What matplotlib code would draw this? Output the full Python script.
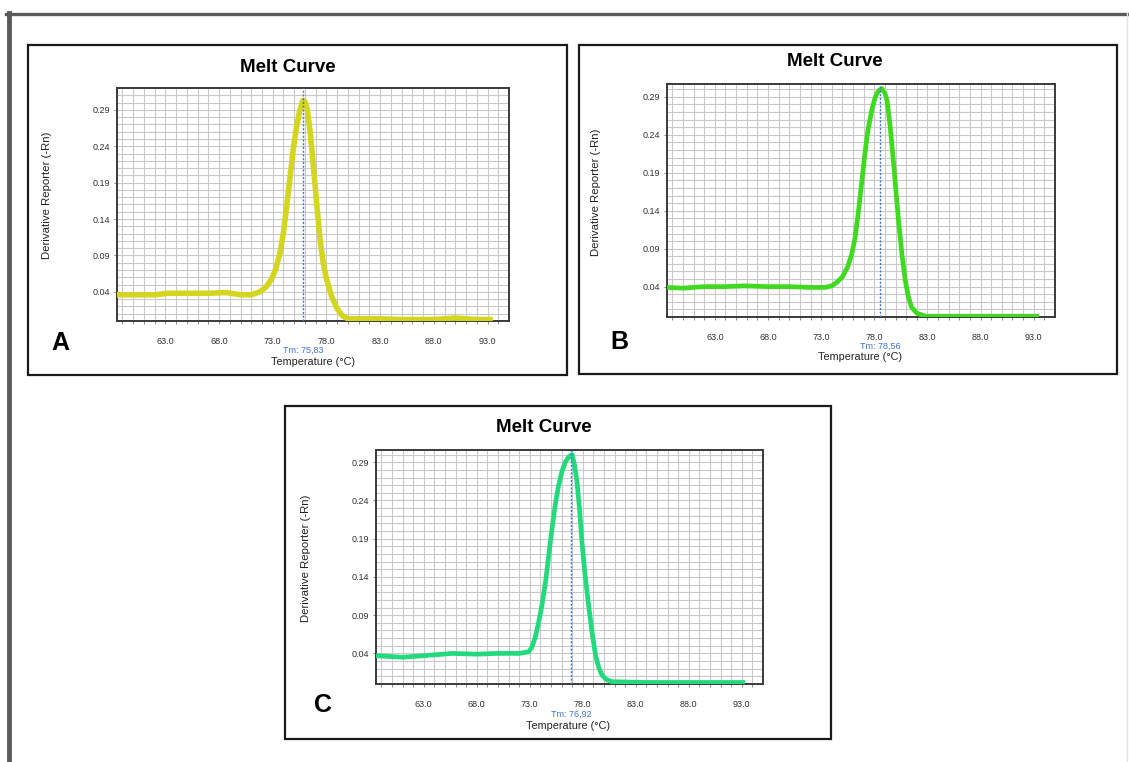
import matplotlib
matplotlib.use("Agg")
import matplotlib.pyplot as plt
from matplotlib.patches import Rectangle
from matplotlib.lines import Line2D

plt.rcParams["font.family"] = ["Liberation Sans", "DejaVu Sans"]

W, H = 1129, 762

# --- data ---
temp_a = [58.5, 60.0, 62.0, 63.2, 65.0, 67.0, 68.7, 70.0, 71.0, 71.8, 72.4, 72.9,
          73.3, 73.7, 74.0, 74.3, 74.6, 74.9, 75.2, 75.5, 75.8, 76.0, 76.2, 76.5,
          76.8, 77.1, 77.4, 77.7, 78.0, 78.5, 79.0, 79.5, 80.0, 81.0, 83.0, 85.0,
          88.0, 90.0, 91.0, 92.0, 93.5]
deriv_a = [0.036, 0.036, 0.036, 0.038, 0.038, 0.038, 0.039, 0.036, 0.036, 0.040, 0.047, 0.058,
           0.072, 0.095, 0.122, 0.158, 0.196, 0.235, 0.265, 0.288, 0.303, 0.301, 0.292, 0.258,
           0.210, 0.160, 0.113, 0.080, 0.058, 0.033, 0.017, 0.007, 0.003, 0.003, 0.003, 0.002,
           0.002, 0.004, 0.003, 0.002, 0.002]

temp_b = [58.5, 60.0, 62.0, 64.0, 65.8, 68.0, 70.0, 72.0, 73.4, 74.0, 74.5, 75.0,
          75.5, 75.9, 76.2, 76.5, 76.8, 77.1, 77.4, 77.8, 78.1, 78.4, 78.7, 79.0,
          79.2, 79.5, 79.8, 80.0, 80.3, 80.6, 80.9, 81.2, 81.5, 82.0, 82.8, 86.0,
          90.0, 93.5]
deriv_b = [0.039, 0.038, 0.040, 0.040, 0.041, 0.040, 0.040, 0.039, 0.039, 0.041, 0.046, 0.053,
           0.066, 0.084, 0.105, 0.138, 0.175, 0.213, 0.246, 0.275, 0.290, 0.298, 0.301, 0.295,
           0.285, 0.250, 0.205, 0.172, 0.124, 0.083, 0.049, 0.027, 0.013, 0.005, 0.001, 0.001,
           0.001, 0.001]

temp_c = [58.5, 61.0, 63.0, 65.7, 68.0, 70.0, 72.0, 72.9, 73.2, 73.5, 73.8, 74.15,
          74.5, 74.8, 75.1, 75.4, 75.7, 76.04, 76.35, 76.67, 77.0, 77.2, 77.45, 77.7,
          77.9, 78.2, 78.55, 78.9, 79.2, 79.5, 79.8, 80.2, 80.75, 84.0, 90.0, 93.3]
deriv_c = [0.037, 0.035, 0.037, 0.040, 0.039, 0.040, 0.040, 0.042, 0.048, 0.060, 0.078, 0.103,
           0.135, 0.169, 0.203, 0.234, 0.258, 0.278, 0.290, 0.297, 0.300, 0.288, 0.265, 0.228,
           0.190, 0.145, 0.103, 0.065, 0.038, 0.022, 0.012, 0.006, 0.003, 0.002, 0.002, 0.002]

tm_values = [75.83, 78.56, 76.92]
tm_labels = ["Tm: 75,83", "Tm: 78,56", "Tm: 76,92"]
panel_letters = ["A", "B", "C"]
x_ticks = [63.0, 68.0, 73.0, 78.0, 83.0, 88.0, 93.0]
y_ticks = [0.04, 0.09, 0.14, 0.19, 0.24, 0.29]


def fx(x):
    return x / W


def fy(y):
    return 1 - y / H


fig = plt.figure(figsize=(W / 100, H / 100), dpi=100)
fig.patch.set_facecolor("white")

# outer frame of the figure image
fig.add_artist(Line2D([fx(6), fx(1129)], [fy(13.5), fy(13.5)], color="#5a5a5a", lw=2.4))
fig.add_artist(Line2D([fx(8.5), fx(8.5)], [fy(13), fy(762)], color="#5a5a5a", lw=3.5))
fig.add_artist(Line2D([fx(1127), fx(1127)], [fy(13), fy(762)], color="#e4e4e4", lw=1))

panels = [
    dict(box=(28, 45, 567, 375), ax=(117, 88, 509, 321), ylim=(0, 0.32),
         title=(288, 67), letter=(60, 343), tm=(303, 350), xlabel=(313, 362),
         ylabel=(47, 195), color="#d3d51e", lw=4.0, temp=temp_a, deriv=deriv_a),
    dict(box=(579, 45, 1117, 374), ax=(667, 84, 1055, 317), ylim=(0, 0.307),
         title=(835, 62), letter=(619, 342), tm=(880, 346), xlabel=(860, 357),
         ylabel=(596, 192), color="#3fda1f", lw=3.4, temp=temp_b, deriv=deriv_b),
    dict(box=(285, 406, 831, 739), ax=(376, 450, 763, 684), ylim=(0, 0.306),
         title=(544, 428), letter=(323, 705), tm=(571, 714), xlabel=(568, 726),
         ylabel=(306, 558), color="#22da7c", lw=3.4, temp=temp_c, deriv=deriv_c),
]

for i, p in enumerate(panels):
    x0, y0, x1, y1 = p["box"]
    fig.add_artist(Rectangle((fx(x0), fy(y1)), fx(x1 - x0), (y1 - y0) / H,
                             transform=fig.transFigure, fill=False,
                             edgecolor="#1a1a1a", lw=1.6))

    a0, b0, a1, b1 = p["ax"]
    ax = fig.add_axes([fx(a0), fy(b1), fx(a1 - a0), (b1 - b0) / H])
    ax.set_xlim(58.5, 95.0)
    ax.set_ylim(*p["ylim"])

    ax.set_xticks(x_ticks)
    ax.set_xticks([t for t in range(59, 95)], minor=True)
    ax.set_xticklabels([f"{t:.1f}" for t in x_ticks], fontsize=6.5, color="#333333")
    ax.set_yticks(y_ticks)
    ax.set_yticklabels([f"{t:.2f}" for t in y_ticks], fontsize=6.5, color="#333333")
    ax.tick_params(axis="x", which="both", length=2.5, width=0.6, color="#777777", pad=9)
    ax.tick_params(axis="y", length=2, width=0.6, color="#777777", pad=3)

    # grid lines at every degree / every 0.01
    for t in range(59, 95):
        ax.axvline(t, color="#c9c9c9", lw=0.8, zorder=0)
    yv = 0.01
    while yv < p["ylim"][1]:
        ax.axhline(yv, color="#c9c9c9", lw=0.8, zorder=0)
        yv += 0.01

    for s in ax.spines.values():
        s.set_color("#3a3a3a")
        s.set_linewidth(1.4)

    ax.plot(p["temp"], p["deriv"], color=p["color"], lw=p["lw"],
            solid_capstyle="butt", zorder=3)
    ax.axvline(tm_values[i], color="#3d74d6", lw=1.0, ls=(0, (1.5, 1.2)), zorder=4)

    fig.text(fx(p["title"][0]), fy(p["title"][1]), "Melt Curve", fontsize=13.5,
             fontweight="bold", ha="center", va="center")
    fig.text(fx(p["letter"][0]), fy(p["letter"][1]), panel_letters[i], fontsize=18,
             fontweight="bold", ha="center", va="center")
    fig.text(fx(p["tm"][0]), fy(p["tm"][1]), tm_labels[i], fontsize=6.5,
             color="#3d74d6", ha="center", va="center")
    fig.text(fx(p["xlabel"][0]), fy(p["xlabel"][1]), "Temperature (°C)", fontsize=7.8,
             color="#222222", ha="center", va="center")
    fig.text(fx(p["ylabel"][0]), fy(p["ylabel"][1]), "Derivative Reporter (-Rn)",
             fontsize=8.2, color="#222222", ha="center", va="center", rotation=90)

fig.savefig("out.png", dpi=100)
